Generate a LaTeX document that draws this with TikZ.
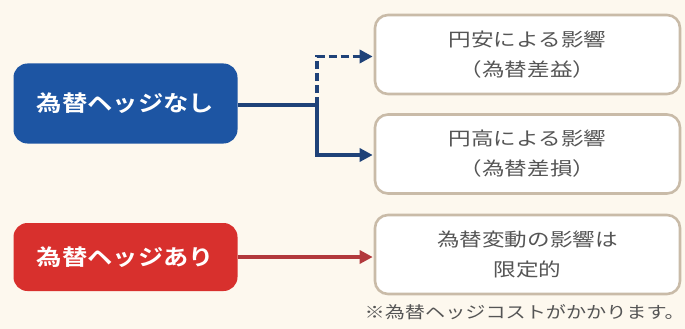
\documentclass[tikz,border=0pt]{standalone}
\usepackage{fontspec}
\newfontfamily\jp[FakeStretch=1.22]{Noto Sans CJK JP}
\newfontfamily\jpb[FakeStretch=1.15]{Noto Sans CJK JP Bold}
\usetikzlibrary{arrows.meta,calc}
\definecolor{bgc}{HTML}{FDF8EE}
\definecolor{bluebox}{HTML}{1D55A3}
\definecolor{redbox}{HTML}{D8302D}
\definecolor{navy}{HTML}{1F4278}
\definecolor{darkred}{HTML}{B2393C}
\definecolor{tan}{HTML}{C9BBA8}
\definecolor{txt}{HTML}{555555}
\tikzset{
  hedgebox/.style={rectangle, rounded corners=14pt, minimum width=224pt, text=white,
     font=\jpb\fontsize{22}{24}\selectfont, inner sep=0pt},
  resbox/.style={rectangle, rounded corners=13pt, draw=tan, line width=2.6pt, fill=white,
     minimum width=305pt, minimum height=79pt, text=txt, align=center, inner sep=0pt,
     font=\jp\fontsize{18.5}{30}\selectfont},
  bluearrow/.style={draw=navy, line width=3.2pt, -{Triangle[length=13pt,width=13pt]}},
  redarrow/.style={draw=darkred, line width=3.2pt, -{Triangle[length=13pt,width=13pt]}},
}
\begin{document}
\begin{tikzpicture}[x=1pt,y=-1pt]
\fill[bgc] (0,0) rectangle (685,329);
\useasboundingbox (0,0) rectangle (685,329);
\node[hedgebox, fill=bluebox, minimum height=80pt] (nashi) at (125.5,103.5) {為替ヘッジなし};
\node[hedgebox, fill=redbox, minimum height=68pt] (ari) at (125.5,257) {為替ヘッジあり};
\node[resbox] (yasu) at (527.5,54.5) {円安による影響\\（為替差益）};
\node[resbox] (taka) at (527.5,154) {円高による影響\\（為替差損）};
\node[resbox] (gentei) at (527.5,254.5) {為替変動の影響は\\限定的};
\node[anchor=east, text=txt, inner sep=0pt, font=\jp\fontsize{16.5}{20}\selectfont] (note) at (685,312) {※為替ヘッジコストがかかります。};
\coordinate (split) at (317,105);
\draw[navy, line width=3.2pt] (nashi.east |- split) -- (split);
\draw[bluearrow, dash pattern=on 8pt off 4pt] (split) |- ($(yasu.west)+(-1,2)$);
\draw[bluearrow] (split) |- ($(taka.west)+(-1,1)$);
\draw[redarrow] (ari.east) -- ($(ari.east -| gentei.west)+(-1,0)$);
\end{tikzpicture}
\end{document}
